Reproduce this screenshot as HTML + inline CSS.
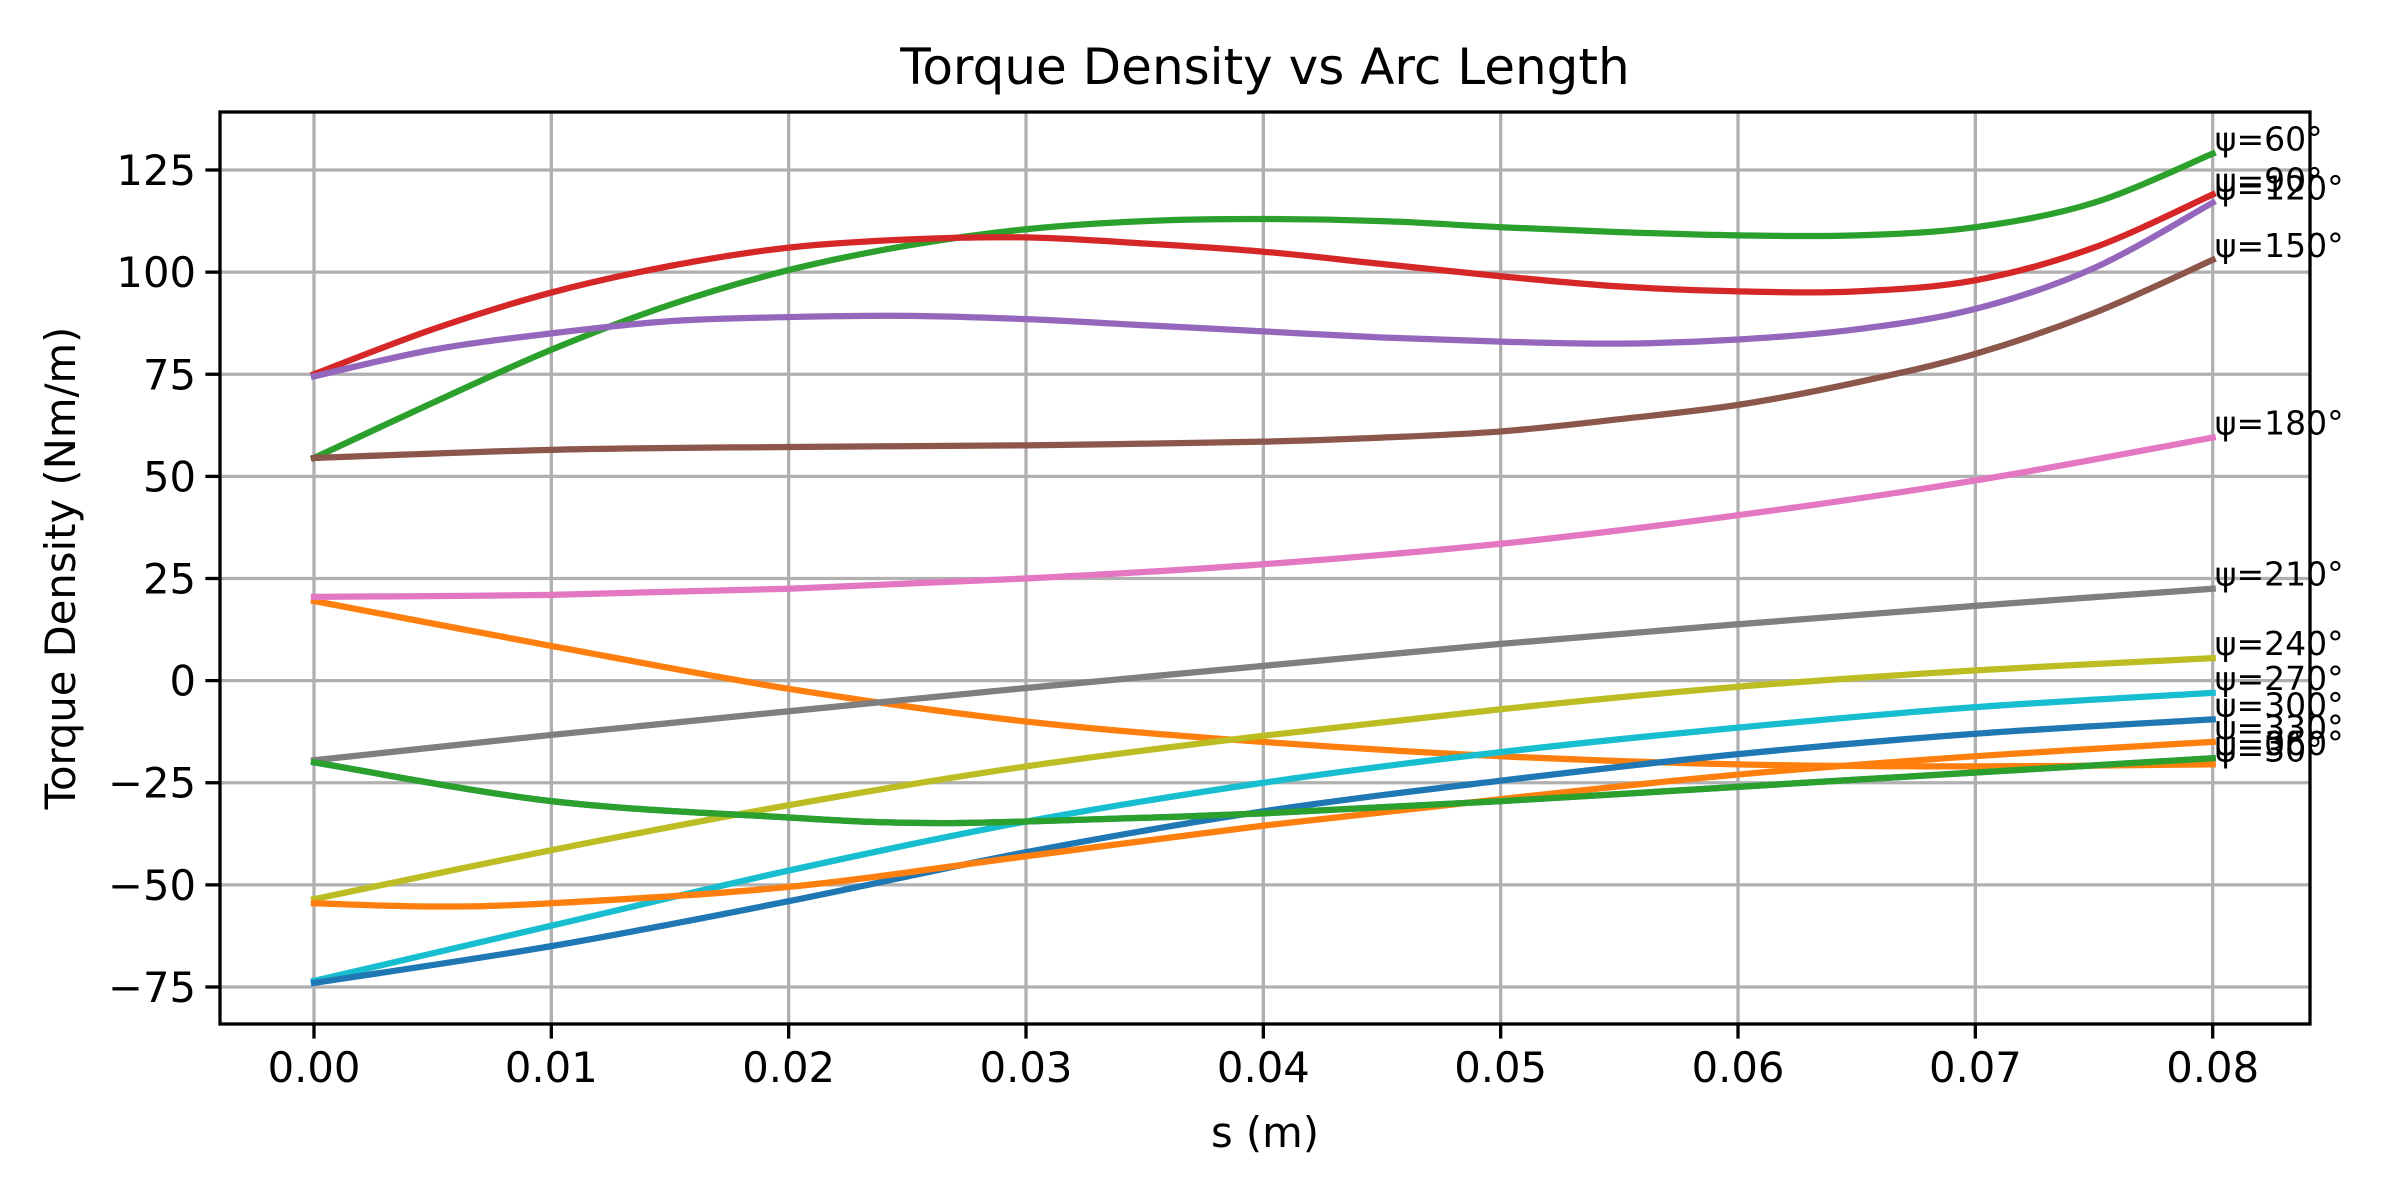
<!DOCTYPE html>
<html><head><meta charset="utf-8"><style>
html,body{margin:0;padding:0;background:#fff;}
svg{display:block;font-family:"DejaVu Sans","Liberation Sans",sans-serif;}
</style></head><body>
<svg id="chart" width="2400" height="1200" viewBox="0 0 2400 1200">
<rect x="0" y="0" width="2400" height="1200" fill="#fff"/>
<g id="grid"></g>
<g id="series"></g>
<g id="labels"></g>
<rect x="220" y="112" width="2090" height="912" fill="none" stroke="#000" stroke-width="3.3"/>
<g id="ticks"></g>
<text x="1265" y="84" font-size="50" text-anchor="middle">Torque Density vs Arc Length</text>
<text x="1265" y="1147" font-size="41.7" text-anchor="middle">s (m)</text>
<text x="0" y="0" font-size="41.7" text-anchor="middle" transform="translate(75,568) rotate(-90)">Torque Density (Nm/m)</text>
</svg>
<script>
const xTicks=[0,0.01,0.02,0.03,0.04,0.05,0.06,0.07,0.08];
const xTickLabels=["0.00","0.01","0.02","0.03","0.04","0.05","0.06","0.07","0.08"];
const yTicks=[-75,-50,-25,0,25,50,75,100,125];
const yTickLabels=["\u221275","\u221250","\u221225","0","25","50","75","100","125"];
const seriesNames=["\u03c8=0\u00b0","\u03c8=30\u00b0","\u03c8=60\u00b0","\u03c8=90\u00b0","\u03c8=120\u00b0","\u03c8=150\u00b0","\u03c8=180\u00b0","\u03c8=210\u00b0","\u03c8=240\u00b0","\u03c8=270\u00b0","\u03c8=300\u00b0","\u03c8=330\u00b0","\u03c8=360\u00b0"];
const s9=[0,0.01,0.02,0.03,0.04,0.05,0.06,0.07,0.08];
const s17=[0,0.005,0.01,0.015,0.02,0.025,0.03,0.035,0.04,0.045,0.05,0.055,0.06,0.065,0.07,0.075,0.08];
const sBrown=[0,0.01,0.02,0.03,0.04,0.045,0.05,0.055,0.06,0.065,0.07,0.075,0.08];
const sGreenLow=[0,0.01,0.02,0.025,0.03,0.04,0.05,0.06,0.07,0.08];
const sOrangeLow=[0,0.005,0.01,0.02,0.03,0.04,0.05,0.06,0.07,0.08];
const v0=[-20,-29.5,-33.5,-34.8,-34.5,-32.5,-29.5,-26,-22.5,-19];
const v30=[19.5,8.5,-2,-10,-15,-18.5,-20.5,-21,-20.5];
const v60=[54.5,68,81,92,100.5,106.5,110.5,112.5,113,112.5,111,109.8,109,109,111,117,129];
const v90=[75,86,95,101.5,106,108,108.5,107,105,102,99,96.5,95.3,95.3,98,106,119];
const v120=[74.5,81,85,88,89,89.3,88.5,87,85.5,84,83,82.5,83.5,86,91,101,117];
const v150=[54.5,56.5,57.2,57.6,58.5,59.5,61,64,67.5,73,80,90,103];
const v180=[20.5,21,22.5,25,28.5,33.5,40.5,49,59.5];
const v210=[-19.5,-13.3,-7.5,-1.8,3.6,9,13.8,18.3,22.5];
const v240=[-53.5,-41.5,-30.5,-21,-13.5,-7,-1.5,2.5,5.5];
const v270=[-73.5,-60,-46.5,-34.5,-25,-17.5,-11.5,-6.5,-3];
const v300=[-74,-65,-54,-42,-32,-24.5,-18,-13,-9.5];
const v330=[-54.5,-55.3,-54.5,-50.5,-43,-35.5,-29,-23,-18.5,-15];
const v360=[-20,-29.5,-33.5,-34.8,-34.5,-32.5,-29.5,-26,-22.5,-19];
const seriesS=[sGreenLow,s9,s17,s17,s17,sBrown,s9,s9,s9,s9,s9,sOrangeLow,sGreenLow];
const seriesV=[v0,v30,v60,v90,v120,v150,v180,v210,v240,v270,v300,v330,v360];
const colors=["#1f77b4","#ff7f0e","#2ca02c","#d62728","#9467bd","#8c564b","#e377c2","#7f7f7f","#bcbd22","#17becf","#1f77b4","#ff7f0e","#2ca02c"];
const X0=220,X1=2310,Y0=112,Y1=1024,xmin=-0.00396,xmax=0.0841,ymin=-84.06,ymax=139.2;
const xs=v=>X0+(v-xmin)/(xmax-xmin)*(X1-X0);
const ys=v=>Y1-(v-ymin)/(ymax-ymin)*(Y1-Y0);
const NS="http://www.w3.org/2000/svg";
function mk(tag,attrs,parent){const e=document.createElementNS(NS,tag);for(const k in attrs)e.setAttribute(k,attrs[k]);parent.appendChild(e);return e;}
const grid=document.getElementById('grid'),ticks=document.getElementById('ticks');
xTicks.forEach((t,i)=>{const x=xs(t);
 const g=mk('line',{x1:x,x2:x,y1:Y0,y2:Y1,stroke:'#b0b0b0','stroke-width':3.3},grid);
 
 
 const tk=mk('line',{x1:x,x2:x,y1:Y1,y2:Y1+14.6,stroke:'#000','stroke-width':3.3},ticks);
 
 
 const tl=mk('text',{x:x,y:Y1+58,'font-size':41.7,'text-anchor':'middle'},ticks);tl.textContent=xTickLabels[i];
 
 });
yTicks.forEach((t,i)=>{const y=ys(t);
 const g=mk('line',{x1:X0,x2:X1,y1:y,y2:y,stroke:'#b0b0b0','stroke-width':3.3},grid);
 
 
 const tk=mk('line',{x1:X0-14.6,x2:X0,y1:y,y2:y,stroke:'#000','stroke-width':3.3},ticks);
 
 
 const tl=mk('text',{x:X0-24,y:y+15,'font-size':41.7,'text-anchor':'end'},ticks);tl.textContent=yTickLabels[i];
 
 });
function pathFor(S,V){const p=S.map((s,i)=>[xs(s),ys(V[i])]);let d='M'+p[0][0]+','+p[0][1];
 for(let i=0;i<p.length-1;i++){const a=p[Math.max(i-1,0)],b=p[i],c=p[i+1],e=p[Math.min(i+2,p.length-1)];
  const c1=[b[0]+(c[0]-a[0])/6,b[1]+(c[1]-a[1])/6],c2=[c[0]-(e[0]-b[0])/6,c[1]-(e[1]-b[1])/6];
  d+=' C'+c1[0]+','+c1[1]+' '+c2[0]+','+c2[1]+' '+c[0]+','+c[1];}return d;}
const sg=document.getElementById('series'),lg=document.getElementById('labels');
seriesV.forEach((V,i)=>{const S=seriesS[i];
 const p=mk('path',{d:pathFor(S,V),fill:'none',stroke:colors[i],'stroke-width':6.25,'stroke-linecap':'square','stroke-linejoin':'round'},sg);
 
 
 const last=S.length-1;
 const t=mk('text',{x:xs(S[last])+2,y:ys(V[last])-3,'font-size':33},lg);t.textContent=seriesNames[i];
 
 });
</script>
</body></html>
